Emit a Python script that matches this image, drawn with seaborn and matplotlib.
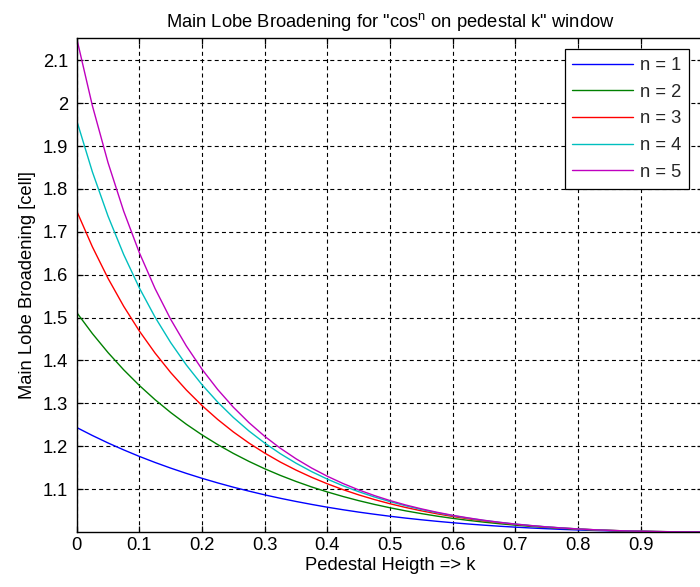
import numpy as np
import pandas as pd
import matplotlib
matplotlib.use("Agg")
import matplotlib.pyplot as plt
import seaborn as sns

# Pedestal height k and main-lobe broadening for cos^n windows, n = 1..5
k_values = [0.000, 0.025, 0.050, 0.075, 0.100, 0.125, 0.150, 0.175, 0.200, 0.225,
            0.250, 0.275, 0.300, 0.325, 0.350, 0.375, 0.400, 0.425, 0.450, 0.475,
            0.500, 0.525, 0.550, 0.575, 0.600, 0.625, 0.650, 0.675, 0.700, 0.725,
            0.750, 0.775, 0.800, 0.825, 0.850, 0.875, 0.900, 0.925, 0.950, 0.975, 1.000]

n1 = [1.2435, 1.2249, 1.2075, 1.1913, 1.1761, 1.1620, 1.1488, 1.1365, 1.1250, 1.1143,
      1.1043, 1.0951, 1.0864, 1.0784, 1.0710, 1.0641, 1.0576, 1.0517, 1.0462, 1.0412,
      1.0365, 1.0322, 1.0283, 1.0247, 1.0214, 1.0184, 1.0157, 1.0132, 1.0111, 1.0091,
      1.0074, 1.0058, 1.0045, 1.0034, 1.0024, 1.0017, 1.0010, 1.0006, 1.0003, 1.0001, 1.0000]
n2 = [1.5118, 1.4627, 1.4183, 1.3781, 1.3416, 1.3085, 1.2785, 1.2511, 1.2263, 1.2037,
      1.1831, 1.1644, 1.1473, 1.1318, 1.1177, 1.1048, 1.0932, 1.0826, 1.0729, 1.0642,
      1.0563, 1.0491, 1.0427, 1.0368, 1.0316, 1.0269, 1.0227, 1.0190, 1.0157, 1.0128,
      1.0103, 1.0081, 1.0062, 1.0046, 1.0033, 1.0022, 1.0014, 1.0008, 1.0003, 1.0001, 1.0000]
n3 = [1.7486, 1.6651, 1.5915, 1.5263, 1.4686, 1.4173, 1.3717, 1.3310, 1.2947, 1.2623,
      1.2332, 1.2072, 1.1839, 1.1629, 1.1442, 1.1273, 1.1122, 1.0986, 1.0864, 1.0755,
      1.0657, 1.0570, 1.0492, 1.0422, 1.0360, 1.0305, 1.0256, 1.0213, 1.0175, 1.0142,
      1.0113, 1.0089, 1.0068, 1.0050, 1.0036, 1.0024, 1.0015, 1.0008, 1.0004, 1.0001, 1.0000]
n4 = [1.9598, 1.8400, 1.7366, 1.6470, 1.5691, 1.5011, 1.4416, 1.3893, 1.3433, 1.3028,
      1.2670, 1.2353, 1.2073, 1.1824, 1.1603, 1.1406, 1.1231, 1.1076, 1.0938, 1.0815,
      1.0706, 1.0609, 1.0523, 1.0447, 1.0379, 1.0320, 1.0267, 1.0222, 1.0182, 1.0147,
      1.0117, 1.0091, 1.0070, 1.0051, 1.0036, 1.0024, 1.0015, 1.0008, 1.0004, 1.0001, 1.0000]
n5 = [2.1515, 1.9944, 1.8614, 1.7481, 1.6512, 1.5678, 1.4959, 1.4336, 1.3794, 1.3322,
      1.2909, 1.2548, 1.2230, 1.1951, 1.1706, 1.1489, 1.1298, 1.1129, 1.0980, 1.0848,
      1.0731, 1.0628, 1.0538, 1.0458, 1.0387, 1.0326, 1.0271, 1.0224, 1.0183, 1.0148,
      1.0117, 1.0091, 1.0069, 1.0051, 1.0036, 1.0024, 1.0015, 1.0008, 1.0003, 1.0001, 1.0000]

series_labels = ["n = 1", "n = 2", "n = 3", "n = 4", "n = 5"]
series_values = [n1, n2, n3, n4, n5]
series_colors = ["#0000ff", "#008000", "#ff0000", "#00bfbf", "#bf00bf"]

x_ticks = [0, 0.1, 0.2, 0.3, 0.4, 0.5, 0.6, 0.7, 0.8, 0.9]
x_ticklabels = ["0", "0.1", "0.2", "0.3", "0.4", "0.5", "0.6", "0.7", "0.8", "0.9"]
y_ticks = [1.1, 1.2, 1.3, 1.4, 1.5, 1.6, 1.7, 1.8, 1.9, 2.0, 2.1]
y_ticklabels = ["1.1", "1.2", "1.3", "1.4", "1.5", "1.6", "1.7", "1.8", "1.9", "2", "2.1"]

df = pd.concat(
    [pd.DataFrame({"k": k_values, "broadening": vals, "series": lab})
     for lab, vals in zip(series_labels, series_values)],
    ignore_index=True,
)

sns.set_theme(style="white")
plt.rcParams["font.family"] = ["Liberation Sans", "DejaVu Sans"]
plt.rcParams["mathtext.default"] = "regular"

FS = 13.2
fig = plt.figure(figsize=(7.0, 5.87), dpi=100, facecolor="white")
W, H = 700.0, 587.0
ax_left, ax_right, ax_top, ax_bottom = 76.7, 703.3, 38.3, 531.9
ax = fig.add_axes([ax_left / W, 1 - ax_bottom / H,
                   (ax_right - ax_left) / W, (ax_bottom - ax_top) / H])
ax.set_facecolor("white")

sns.lineplot(data=df, x="k", y="broadening", hue="series",
             palette=series_colors, hue_order=series_labels,
             estimator=None, sort=False, linewidth=1.0, ax=ax, legend=False)

ax.set_xlim(0, 1)
ax.set_ylim(1.0, 2.1515)
ax.set_xticks(x_ticks)
ax.set_xticklabels(x_ticklabels)
ax.set_yticks(y_ticks)
ax.set_yticklabels(y_ticklabels)

ax.grid(True, color="black", linestyle=(0, (3.6, 2.9)), linewidth=0.8)
ax.set_axisbelow(True)
for sp in ax.spines.values():
    sp.set_visible(True)
    sp.set_color("black")
    sp.set_linewidth(1.0)

ax.tick_params(axis="both", which="major", direction="in", length=4.5, width=0.9,
               color="black", labelsize=FS, labelcolor="black",
               top=True, right=True, bottom=True, left=True)
ax.tick_params(axis="x", pad=4)
ax.tick_params(axis="y", pad=6)

ax.set_xlabel("Pedestal Heigth => k", fontsize=FS, color="black", labelpad=2)
ax.set_ylabel("Main Lobe Broadening [cell]", fontsize=FS, color="black", labelpad=5)
ax.set_title('Main Lobe Broadening for "cos$^{n}$ on pedestal k" window',
             fontsize=FS, color="black", pad=8)

handles = [matplotlib.lines.Line2D([], [], color=c, linewidth=1.0) for c in series_colors]
leg = ax.legend(handles, series_labels, loc="upper right",
                bbox_to_anchor=(689.0 / W, 1 - 49.3 / H), bbox_transform=fig.transFigure,
                borderaxespad=0, fontsize=FS, frameon=True, fancybox=False,
                shadow=False, handlelength=3.3, handletextpad=0.4,
                labelspacing=0.53, borderpad=0.42)
leg.get_frame().set_edgecolor("black")
leg.get_frame().set_linewidth(0.9)
leg.get_frame().set_facecolor("white")
leg.get_frame().set_alpha(1.0)

fig.savefig("out.png", dpi=100, facecolor="white")
